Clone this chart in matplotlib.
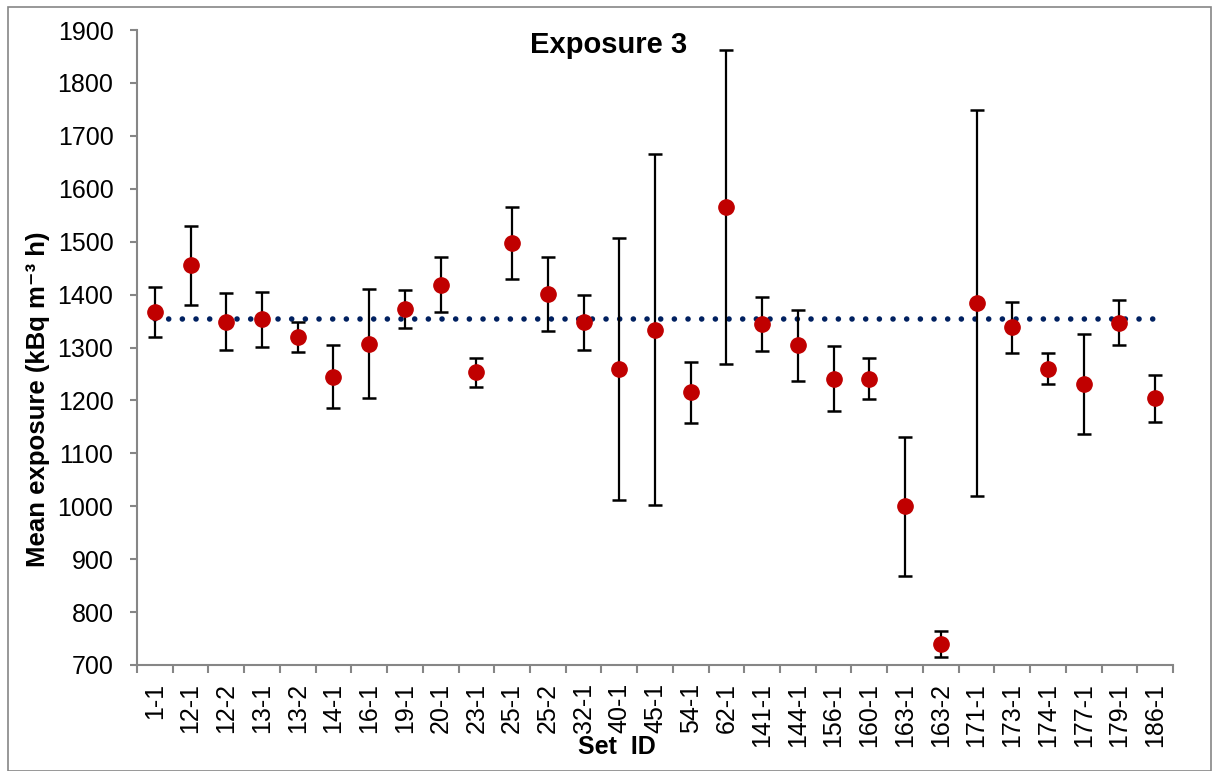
import matplotlib
matplotlib.use("Agg")
import matplotlib.pyplot as plt
from matplotlib.patches import Rectangle
import numpy as np

# values
set_ids = ['1-1', '12-1', '12-2', '13-1', '13-2', '14-1', '16-1', '19-1', '20-1',
           '23-1', '25-1', '25-2', '32-1', '40-1', '45-1', '54-1', '62-1', '141-1',
           '144-1', '156-1', '160-1', '163-1', '163-2', '171-1', '173-1', '174-1',
           '177-1', '179-1', '186-1']
mean_exposure = [1367, 1455, 1349, 1353, 1320, 1245, 1307, 1372, 1419,
                 1253, 1497, 1401, 1348, 1259, 1334, 1215, 1565, 1345,
                 1304, 1241, 1241, 1000, 740, 1384, 1338, 1260,
                 1231, 1347, 1204]
err = [47, 75, 54, 52, 28, 59, 103, 36, 52,
       27, 68, 70, 52, 248, 331, 58, 297, 51,
       67, 61, 39, 131, 24, 365, 48, 29,
       94, 43, 44]
overall_mean = 1354

plt.rcParams['font.family'] = ['Liberation Sans', 'DejaVu Sans']

W, H = 1220, 771
fig = plt.figure(figsize=(W / 100, H / 100), dpi=100)
ax = fig.add_axes([137 / W, 1 - 665 / H, (1173 - 137) / W, (665 - 30) / H])

x = np.arange(len(set_ids))
# overall mean as a dotted line
ax.plot([x[0], x[-1]], [overall_mean, overall_mean], color='#002060', lw=4,
        ls=(0, (0.01, 2.45)), dash_capstyle='round', zorder=1)
ax.errorbar(x, mean_exposure, yerr=err, fmt='o', color='#C00000', ms=11,
            ecolor='black', elinewidth=1.6, capsize=5, capthick=1.8, zorder=2)

ax.set_xlim(-0.5, len(set_ids) - 0.5)
ax.set_ylim(700, 1900)
ax.set_yticks(np.arange(700, 1901, 100))
ax.set_xticks(x)
ax.set_xticklabels(set_ids, rotation=90)
ax.set_xticks(np.arange(-0.5, len(set_ids)), minor=True)

gray = '#868686'
for s in ['top', 'right']:
    ax.spines[s].set_visible(False)
for s in ['left', 'bottom']:
    ax.spines[s].set_color(gray)
    ax.spines[s].set_linewidth(1.5)
ax.tick_params(axis='y', direction='out', length=5, width=1.5, color=gray,
               labelsize=18, pad=12)
ax.tick_params(axis='x', which='major', length=0, labelsize=18, pad=13)
ax.tick_params(axis='x', which='minor', direction='out', length=6, width=1.5,
               color=gray)

fig.text(609 / W, 1 - 45 / H, 'Exposure 3', ha='center', va='center',
         fontsize=21, fontweight='bold')
fig.text(38 / W, 1 - 399 / H, 'Mean exposure (kBq m⁻³ h)', rotation=90,
         ha='center', va='center', fontsize=18.5, fontweight='bold')
fig.text(617 / W, 1 - 747 / H, 'Set  ID', ha='center', va='center',
         fontsize=18, fontweight='bold')

fig.patches.append(Rectangle((8 / W, 0.5 / H), (1211 - 8) / W, (763.5) / H,
                             transform=fig.transFigure, fill=False,
                             edgecolor=gray, lw=1.2))

fig.savefig('out.png', dpi=100)
